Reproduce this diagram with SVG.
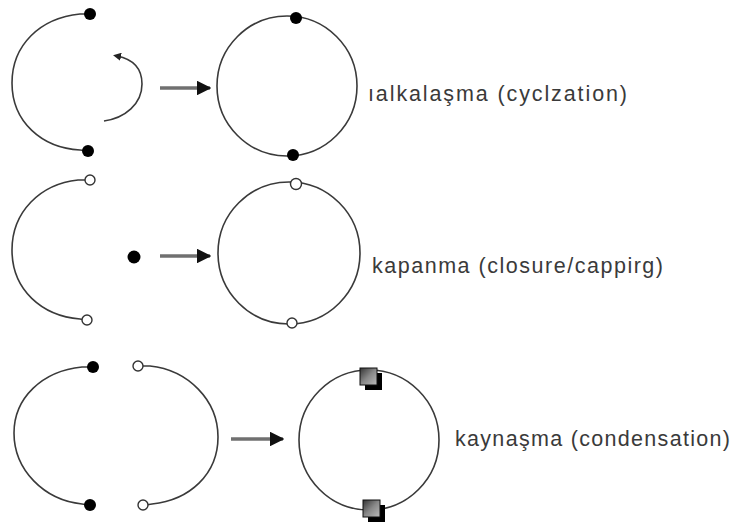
<svg xmlns="http://www.w3.org/2000/svg" width="734" height="523" viewBox="0 0 734 523">
<defs>
<style>
.ln{fill:none;stroke:#3a3a3a;stroke-width:1.6}
.fd{fill:#000}
.od{fill:#fff;stroke:#333;stroke-width:1.4}
.ar{stroke:#707070;stroke-width:3.5;fill:none}
.lbl{font-family:"Liberation Sans",Arial,sans-serif;font-size:21.5px;fill:#3a3a3a}
</style>
<marker id="ah" viewBox="0 0 10 10" refX="9" refY="5" markerWidth="4.2" markerHeight="4.2" orient="auto" markerUnits="strokeWidth">
<path d="M0,0 L10,5 L0,10 z" fill="#111"/>
</marker>
<marker id="ah2" viewBox="0 0 10 10" refX="5" refY="5" markerWidth="8" markerHeight="8" orient="auto" markerUnits="userSpaceOnUse">
<path d="M0,0 L10,5 L0,10 z" fill="#222"/>
</marker>
<linearGradient id="sq" x1="0" y1="0" x2="1" y2="1">
<stop offset="0" stop-color="#333"/>
<stop offset="0.5" stop-color="#888"/>
<stop offset="1" stop-color="#bbb"/>
</linearGradient>
<g id="sqm">
<rect x="5" y="5" width="17" height="17" fill="#000"/>
<rect x="0" y="0" width="17" height="17" fill="url(#sq)" stroke="#111" stroke-width="1"/>
</g>
</defs>
<rect width="734" height="523" fill="#fff"/>

<g id="connectors">
<line class="ar" x1="160" y1="88" x2="210" y2="88" marker-end="url(#ah)"/>
<line class="ar" x1="160" y1="256" x2="210" y2="256" marker-end="url(#ah)"/>
<line class="ar" x1="231" y1="439" x2="283" y2="439" marker-end="url(#ah)"/>
</g>

<g id="row1-open-chain">
<path class="ln" d="M88,14 L80,14 C40,18 12,45 12,83 C12,122 42,148 80,150 L88,151"/>
<circle class="fd" cx="90" cy="14" r="6"/>
<circle class="fd" cx="88" cy="151" r="6"/>
</g>
<g id="row1-curl">
<path class="ln" d="M104,121 C125,118 142,104 142,84 C142,68 132,59 117,56" marker-end="url(#ah2)"/>
</g>
<g id="row1-ring">
<circle class="ln" cx="287" cy="86" r="70"/>
<circle class="fd" cx="296" cy="18" r="6"/>
<circle class="fd" cx="293" cy="155" r="6"/>
<text class="lbl" x="368" y="101" textLength="259" lengthAdjust="spacing">ıalkalaşma (cyclzation)</text>
</g>

<g id="row2-open-chain">
<path class="ln" d="M86,180 L78,180 C40,184 12,212 12,250 C12,290 42,316 80,319 L85,320"/>
<circle class="od" cx="90" cy="180" r="5"/>
<circle class="od" cx="87" cy="320" r="5"/>
</g>
<g id="row2-cap">
<circle class="fd" cx="134" cy="257" r="6.5"/>
</g>
<g id="row2-ring">
<circle class="ln" cx="289" cy="253" r="71"/>
<circle class="od" cx="296" cy="184" r="5.5"/>
<circle class="od" cx="292" cy="323" r="5"/>
<text class="lbl" x="372" y="273" textLength="291" lengthAdjust="spacing">kapanma (closure/cappirg)</text>
</g>

<g id="row3-left-chain">
<path class="ln" d="M90,367 L82,367 C42,371 14,398 14,433 C14,470 44,500 82,504 L88,505"/>
<circle class="fd" cx="93" cy="367" r="6"/>
<circle class="fd" cx="90" cy="505" r="6"/>
</g>
<g id="row3-right-chain">
<path class="ln" d="M141,366 L150,366 C188,370 218,400 218,437 C218,474 190,500 152,504 L146,505"/>
<circle class="od" cx="138" cy="366" r="5"/>
<circle class="od" cx="143" cy="505" r="5"/>
</g>
<g id="row3-ring">
<circle class="ln" cx="369" cy="440" r="70"/>
<use href="#sqm" x="360" y="368"/>
<use href="#sqm" x="363" y="500"/>
<text class="lbl" x="455" y="446" textLength="275" lengthAdjust="spacing">kaynaşma (condensation)</text>
</g>
</svg>
